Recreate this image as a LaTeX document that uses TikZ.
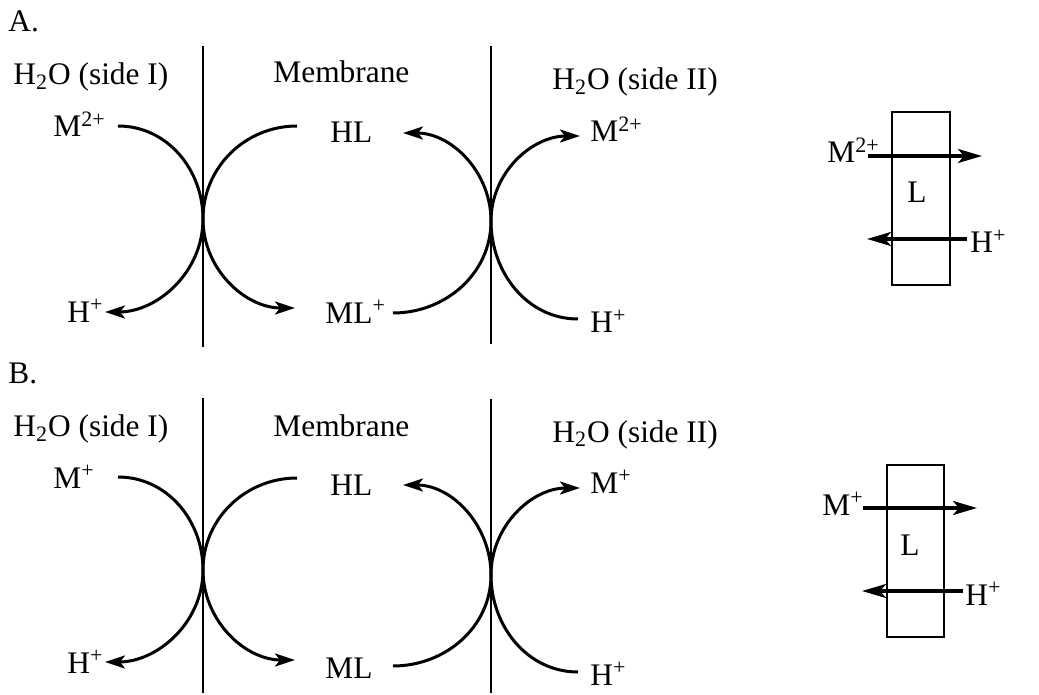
\documentclass[tikz,border=0pt]{standalone}
\usepackage{fontspec}
\setmainfont{Liberation Serif}
\usetikzlibrary{arrows.meta}
\tikzset{
  lbl/.style={inner sep=0pt, anchor=base west, font=\fontsize{15.7}{18}\selectfont},
  wall/.style={line width=1.15pt},
  flow/.style={line width=1.5pt, -{Stealth[length=10pt,width=6.5pt,inset=2.5pt]}},
  boxst/.style={draw, line width=1.25pt, inner sep=0pt},
  cross/.style={line width=1.7pt, -{Stealth[length=12pt,width=7pt,inset=3pt]}},
}
\begin{document}
\begin{tikzpicture}[x=0.5pt,y=0.5pt]
\useasboundingbox (0,0) rectangle (1039,-695);

% ---------------- Panel A ----------------
\node[lbl] (titleA) at (8,-32) {A.};
\coordinate (wA1t) at (203,-46);  \coordinate (wA1b) at (203,-347);
\coordinate (wA2t) at (491,-46);  \coordinate (wA2b) at (491,-344);
\draw[wall] (wA1t) -- (wA1b);
\draw[wall] (wA2t) -- (wA2b);

\node[lbl] (sideIA) at (13,-85) {H\textsubscript{2}O (side I)};
\node[lbl] (membA) at (273,-83) {Membrane};
\node[lbl] (sideIIA) at (552,-90) {H\textsubscript{2}O (side II)};

\node[lbl] (mA1) at (53,-137) {M\textsuperscript{2+}};
\node[lbl] (hlA) at (330,-143) {HL};
\node[lbl] (mA2) at (590,-142) {M\textsuperscript{2+}};
\node[lbl] (hA1) at (67,-322) {H\textsuperscript{+}};
\node[lbl] (mlA) at (325,-323) {ML\textsuperscript{+}};
\node[lbl] (hA2) at (590,-333) {H\textsuperscript{+}};

\coordinate (tA1) at (203,-219);
\coordinate (tA2) at (491,-221);
\coordinate (a1s) at (118,-126); \coordinate (a1e) at (105,-312);
\coordinate (a2s) at (297,-126); \coordinate (a2e) at (295,-308);
\coordinate (a3s) at (393,-313); \coordinate (a3e) at (403,-133);
\coordinate (a4s) at (578,-319); \coordinate (a4e) at (580,-136);
\draw[flow] (a1s) to[out=0,in=90] (tA1) to[out=-90,in=0] (a1e);
\draw[flow] (a2s) to[out=180,in=90] (tA1) to[out=-90,in=180] (a2e);
\draw[flow] (a3s) to[out=0,in=-90] (tA2) to[out=90,in=0] (a3e);
\draw[flow] (a4s) to[out=180,in=-90] (tA2) to[out=90,in=180] (a4e);

\node[boxst, minimum width=29pt, minimum height=86.5pt] (boxA) at (921,-198.5) {};
\node[lbl] (LA) at (907,-203) {L};
\node[lbl] (mA3) at (827,-163) {M\textsuperscript{2+}};
\node[lbl] (hA3) at (970,-253) {H\textsuperscript{+}};
\coordinate (xA1s) at (868,-156); \coordinate (xA1e) at (982,-156);
\coordinate (xA2s) at (967,-239); \coordinate (xA2e) at (867,-239);
\draw[cross] (xA1s) -- (xA1e);
\draw[cross] (xA2s) -- (xA2e);

% ---------------- Panel B ----------------
\node[lbl] (titleB) at (8,-383) {B.};
\coordinate (wB1t) at (203,-398);  \coordinate (wB1b) at (203,-693);
\coordinate (wB2t) at (491,-399);  \coordinate (wB2b) at (491,-693);
\draw[wall] (wB1t) -- (wB1b);
\draw[wall] (wB2t) -- (wB2b);

\node[lbl] (sideIB) at (13,-437) {H\textsubscript{2}O (side I)};
\node[lbl] (membB) at (273,-436) {Membrane};
\node[lbl] (sideIIB) at (552,-442) {H\textsubscript{2}O (side II)};

\node[lbl] (mB1) at (53,-488) {M\textsuperscript{+}};
\node[lbl] (hlB) at (330,-495) {HL};
\node[lbl] (mB2) at (590,-493) {M\textsuperscript{+}};
\node[lbl] (hB1) at (67,-673) {H\textsuperscript{+}};
\node[lbl] (mlB) at (325,-678) {ML};
\node[lbl] (hB2) at (590,-685) {H\textsuperscript{+}};

\coordinate (tB1) at (203,-570);
\coordinate (tB2) at (491,-575);
\coordinate (b1s) at (118,-477); \coordinate (b1e) at (105,-662);
\coordinate (b2s) at (297,-478); \coordinate (b2e) at (295,-660);
\coordinate (b3s) at (393,-666); \coordinate (b3e) at (403,-485);
\coordinate (b4s) at (578,-672); \coordinate (b4e) at (580,-488);
\draw[flow] (b1s) to[out=0,in=90] (tB1) to[out=-90,in=0] (b1e);
\draw[flow] (b2s) to[out=180,in=90] (tB1) to[out=-90,in=180] (b2e);
\draw[flow] (b3s) to[out=0,in=-90] (tB2) to[out=90,in=0] (b3e);
\draw[flow] (b4s) to[out=180,in=-90] (tB2) to[out=90,in=180] (b4e);

\node[boxst, minimum width=28.5pt, minimum height=86pt] (boxB) at (915.5,-551) {};
\node[lbl] (LB) at (900,-555) {L};
\node[lbl] (mB3) at (822,-515) {M\textsuperscript{+}};
\node[lbl] (hB3) at (965,-605) {H\textsuperscript{+}};
\coordinate (xB1s) at (863,-508); \coordinate (xB1e) at (977,-508);
\coordinate (xB2s) at (963,-591); \coordinate (xB2e) at (862,-591);
\draw[cross] (xB1s) -- (xB1e);
\draw[cross] (xB2s) -- (xB2e);
\end{tikzpicture}
\end{document}
